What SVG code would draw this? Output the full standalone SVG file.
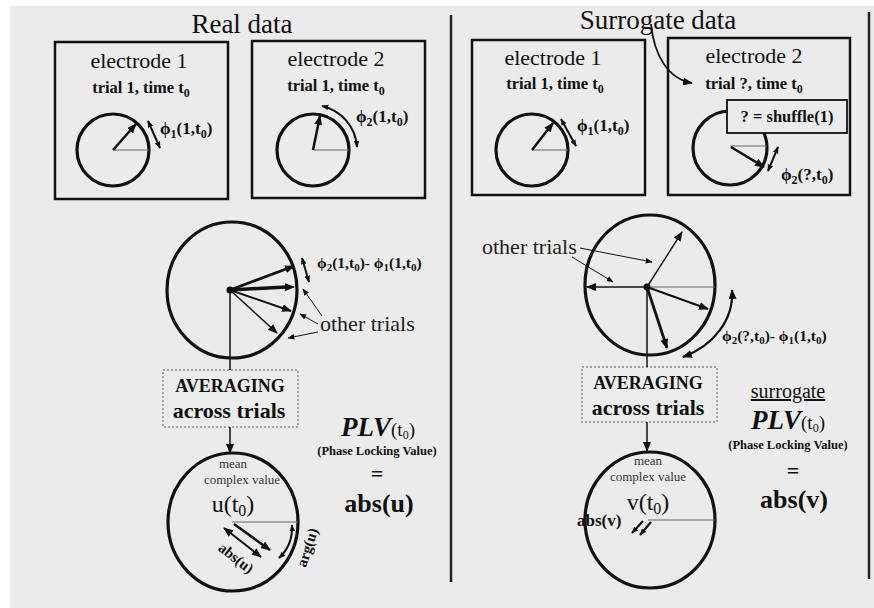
<svg xmlns="http://www.w3.org/2000/svg" width="874" height="608" viewBox="0 0 874 608">
<defs>
<style>
text{font-family:"Liberation Serif","DejaVu Serif",serif;fill:#111}
.title{font-size:27px;text-anchor:middle}
.el{font-size:22px;text-anchor:middle}
.tr{font-size:16.5px;font-weight:bold;text-anchor:middle}
.phi{font-size:17px;font-weight:bold}
.phis{font-size:15.5px;font-weight:bold}
.ot{font-size:22px;fill:#222}
.avg1{font-size:18px;font-weight:bold;text-anchor:middle}
.avg2{font-size:22px;font-weight:bold;text-anchor:middle}
.mean{font-size:13px;text-anchor:middle;fill:#333}
.uv{font-size:24px;text-anchor:middle}
.plv{font-size:27px;font-weight:bold;font-style:italic;text-anchor:middle}
.plvs{font-size:12.5px;font-weight:bold;text-anchor:middle}
.abs{font-size:26px;font-weight:bold;text-anchor:middle}
.box{fill:#ebebeb;stroke:#111;stroke-width:2.5}
.circ{fill:none;stroke:#111;stroke-width:3.2}
.thin{stroke:#666;stroke-width:1.2;fill:none}
.vec{stroke:#111;fill:none}
.avgbox{fill:#ececec;stroke:#888;stroke-width:1.5;stroke-dasharray:2 2}
.sep{stroke:#222;stroke-width:2.5}
</style>
<marker id="ah" viewBox="0 0 10 8" refX="9" refY="4" markerWidth="10" markerHeight="8" markerUnits="userSpaceOnUse" orient="auto-start-reverse"><path d="M0,0 L10,4 L0,8 z" fill="#111"/></marker>
<marker id="as" viewBox="0 0 10 8" refX="9" refY="4" markerWidth="7" markerHeight="6" markerUnits="userSpaceOnUse" orient="auto-start-reverse"><path d="M0,0 L10,4 L0,8 z" fill="#111"/></marker>
</defs>
<rect x="0" y="0" width="874" height="608" fill="#ffffff"/>
<rect x="10" y="6" width="864" height="602" fill="#ebebeb"/>

<g id="separators">
<line class="sep" x1="451" y1="15" x2="451" y2="582"/>
<line class="sep" x1="869" y1="12" x2="869" y2="579"/>
</g>

<g id="title-real"><text class="title" x="242" y="33">Real data</text></g>
<g id="title-surrogate"><text class="title" x="658" y="29">Surrogate data</text></g>

<g id="real-electrode1">
<rect class="box" x="55" y="42" width="173" height="157"/>
<text class="el" x="139" y="68">electrode 1</text>
<text class="tr" x="141" y="93">trial 1, time t<tspan font-size="12" dy="4">0</tspan></text>
<circle class="circ" cx="113" cy="150" r="36"/>
<line class="thin" x1="113" y1="150" x2="149" y2="150"/>
<line class="vec" stroke-width="2.5" x1="113" y1="150" x2="136" y2="124" marker-end="url(#ah)"/>
<line class="vec" stroke-width="2" x1="148" y1="121" x2="160" y2="148" marker-start="url(#as)" marker-end="url(#as)"/>
<text class="phi" x="160" y="134">ϕ<tspan font-size="12" dy="4">1</tspan><tspan dy="-4">(1,t</tspan><tspan font-size="12" dy="4">0</tspan><tspan dy="-4">)</tspan></text>
</g>

<g id="real-electrode2">
<rect class="box" x="252" y="41" width="173" height="157"/>
<text class="el" x="336" y="66">electrode 2</text>
<text class="tr" x="336" y="91">trial 1, time t<tspan font-size="12" dy="4">0</tspan></text>
<circle class="circ" cx="313" cy="150" r="36"/>
<line class="thin" x1="313" y1="150" x2="349" y2="150"/>
<line class="vec" stroke-width="2.5" x1="313" y1="150" x2="320" y2="116" marker-end="url(#ah)"/>
<path class="vec" stroke-width="2" d="M322,106 A45,45 0 0 1 357,147" marker-start="url(#as)" marker-end="url(#as)"/>
<text class="phi" x="356" y="122">ϕ<tspan font-size="12" dy="4">2</tspan><tspan dy="-4">(1,t</tspan><tspan font-size="12" dy="4">0</tspan><tspan dy="-4">)</tspan></text>
</g>

<g id="sur-electrode1">
<rect class="box" x="472" y="40" width="173" height="155"/>
<text class="el" x="553" y="65">electrode 1</text>
<text class="tr" x="555" y="89">trial 1, time t<tspan font-size="12" dy="4">0</tspan></text>
<circle class="circ" cx="532" cy="150" r="36"/>
<line class="thin" x1="532" y1="150" x2="568" y2="150"/>
<line class="vec" stroke-width="2.5" x1="532" y1="150" x2="553" y2="123" marker-end="url(#ah)"/>
<line class="vec" stroke-width="2" x1="561" y1="119" x2="576" y2="146" marker-start="url(#as)" marker-end="url(#as)"/>
<text class="phi" x="577" y="131">ϕ<tspan font-size="12" dy="4">1</tspan><tspan dy="-4">(1,t</tspan><tspan font-size="12" dy="4">0</tspan><tspan dy="-4">)</tspan></text>
</g>

<g id="sur-electrode2">
<rect class="box" x="668" y="38" width="182" height="157"/>
<text class="el" x="754" y="63">electrode 2</text>
<text class="tr" x="754" y="89">trial ?, time t<tspan font-size="12" dy="4">0</tspan></text>
<circle class="circ" cx="730" cy="148" r="37"/>
<line class="thin" x1="730" y1="146" x2="767" y2="146"/>
<line class="vec" stroke-width="2.5" x1="731" y1="147" x2="764" y2="167" marker-end="url(#ah)"/>
<line class="vec" stroke-width="2" x1="768" y1="171" x2="778" y2="147" marker-start="url(#as)" marker-end="url(#as)"/>
<text class="phi" x="781" y="180">ϕ<tspan font-size="12" dy="4">2</tspan><tspan dy="-4">(?,t</tspan><tspan font-size="12" dy="4">0</tspan><tspan dy="-4">)</tspan></text>
</g>

<g id="shuffle-box">
<rect x="727" y="100" width="120" height="33" fill="#ebebeb" stroke="#111" stroke-width="1.8"/>
<text x="787" y="122" font-size="16.5" font-weight="bold" text-anchor="middle">? = shuffle(1)</text>
</g>

<g id="real-trials-circle">
<ellipse class="circ" cx="232" cy="290" rx="65" ry="68"/>
<circle cx="230" cy="290" r="3.5" fill="#111"/>
<line class="vec" stroke="#999" stroke-width="3.5" x1="230" y1="290" x2="286" y2="287"/>
<line class="vec" stroke-width="1.2" x1="280" y1="287.3" x2="294" y2="287" marker-end="url(#ah)"/>
<line class="vec" stroke-width="2.8" x1="230" y1="290" x2="294" y2="266" marker-end="url(#ah)"/>
<line class="vec" stroke-width="2" x1="230" y1="290" x2="291" y2="311" marker-end="url(#ah)"/>
<line class="vec" stroke-width="1.4" x1="230" y1="290" x2="277" y2="333" marker-end="url(#ah)"/>
<line class="vec" stroke-width="2" x1="302" y1="258" x2="309" y2="282" marker-start="url(#as)" marker-end="url(#as)"/>
<text class="phis" x="317" y="268">ϕ<tspan font-size="11" dy="3">2</tspan><tspan dy="-3">(1,t</tspan><tspan font-size="11" dy="3">0</tspan><tspan dy="-3">)- ϕ</tspan><tspan font-size="11" dy="3">1</tspan><tspan dy="-3">(1,t</tspan><tspan font-size="11" dy="3">0</tspan><tspan dy="-3">)</tspan></text>
<text class="ot" x="320" y="331">other trials</text>
</g>

<g id="real-averaging">
<rect class="avgbox" x="163" y="370" width="135" height="57"/>
<text class="avg1" x="230" y="392">AVERAGING</text>
<text class="avg2" x="229" y="418">across trials</text>
</g>

<g id="real-mean-circle">
<ellipse class="circ" cx="233" cy="522" rx="65" ry="69"/>
<text class="mean" x="233" y="468">mean</text>
<text class="mean" x="242" y="484">complex value</text>
<text class="uv" x="233" y="512">u(t<tspan font-size="16" dy="4">0</tspan><tspan dy="-4">)</tspan></text>
<line class="thin" stroke="#222" stroke-width="1.5" x1="232" y1="522" x2="298" y2="522"/>
<line class="vec" stroke-width="2.5" x1="234" y1="524" x2="270" y2="550" marker-end="url(#ah)"/>
<line class="vec" stroke-width="2" x1="224" y1="528" x2="261" y2="557" marker-start="url(#ah)" marker-end="url(#ah)"/>
<path class="vec" stroke-width="2" d="M292,525 Q293,545 279,558" marker-start="url(#as)" marker-end="url(#as)"/>
<text x="233" y="562" font-size="15" font-weight="bold" text-anchor="middle" transform="rotate(38 233 562)">abs(u)</text>
<text x="312" y="549" font-size="15" font-weight="bold" text-anchor="middle" transform="rotate(-72 312 549)">arg(u)</text>
</g>

<g id="real-plv">
<text class="plv" x="378" y="436">PLV<tspan font-size="19" font-weight="normal" font-style="normal">(t<tspan font-size="12" dy="2.5">0</tspan><tspan dy="-2.5">)</tspan></tspan></text>
<text class="plvs" x="377" y="455">(Phase Locking Value)</text>
<text x="377" y="481" font-size="22" font-weight="bold" text-anchor="middle">=</text>
<text class="abs" x="379" y="512">abs(u)</text>
</g>

<g id="sur-trials-circle">
<ellipse class="circ" cx="650" cy="285" rx="65" ry="70"/>
<circle cx="647" cy="287" r="3.5" fill="#111"/>
<line class="thin" stroke="#222" stroke-width="1.5" x1="647" y1="287" x2="715" y2="287"/>
<line class="vec" stroke-width="1.5" x1="647" y1="287" x2="587" y2="287" marker-end="url(#ah)"/>
<line class="vec" stroke-width="1.4" x1="647" y1="287" x2="682" y2="232" marker-end="url(#ah)"/>
<line class="vec" stroke-width="2" x1="647" y1="287" x2="708" y2="309" marker-end="url(#ah)"/>
<line class="vec" stroke-width="2.8" x1="647" y1="287" x2="667" y2="348" marker-end="url(#ah)"/>
<path class="vec" stroke-width="2.2" d="M732,290 C734,320 713,346 683,357" marker-start="url(#ah)" marker-end="url(#ah)"/>
<text class="phis" x="722" y="341">ϕ<tspan font-size="11" dy="3">2</tspan><tspan dy="-3">(?,t</tspan><tspan font-size="11" dy="3">0</tspan><tspan dy="-3">)- ϕ</tspan><tspan font-size="11" dy="3">1</tspan><tspan dy="-3">(1,t</tspan><tspan font-size="11" dy="3">0</tspan><tspan dy="-3">)</tspan></text>
<text class="ot" x="482" y="254">other trials</text>
</g>

<g id="sur-averaging">
<rect class="avgbox" x="582" y="367" width="135" height="55"/>
<text class="avg1" x="648" y="389">AVERAGING</text>
<text class="avg2" x="648" y="415">across trials</text>
</g>

<g id="sur-mean-circle">
<ellipse class="circ" cx="650" cy="520" rx="65" ry="68"/>
<text class="mean" x="648" y="465">mean</text>
<text class="mean" x="648" y="481">complex value</text>
<text class="uv" x="648" y="510">v(t<tspan font-size="16" dy="4">0</tspan><tspan dy="-4">)</tspan></text>
<line class="thin" stroke="#222" stroke-width="1.5" x1="648" y1="520" x2="715" y2="520"/>
<line class="vec" stroke-width="2.2" x1="651" y1="522" x2="640" y2="535" marker-end="url(#as)"/>
<line class="vec" stroke-width="2.2" x1="643" y1="521" x2="632" y2="533" marker-end="url(#as)"/>
<text x="577" y="526" font-size="17" font-weight="bold">abs(v)</text>
</g>

<g id="sur-plv">
<text x="788" y="398" font-size="20" text-anchor="middle" text-decoration="underline">surrogate</text>
<text class="plv" x="788" y="429">PLV<tspan font-size="19" font-weight="normal" font-style="normal">(t<tspan font-size="12" dy="2.5">0</tspan><tspan dy="-2.5">)</tspan></tspan></text>
<text class="plvs" x="788" y="449">(Phase Locking Value)</text>
<text x="793" y="478" font-size="22" font-weight="bold" text-anchor="middle">=</text>
<text class="abs" x="794" y="508">abs(v)</text>
</g>

<g id="connectors">
<line class="vec" stroke-width="1.5" x1="230" y1="290" x2="230" y2="370"/>
<line class="vec" stroke-width="1.5" x1="230" y1="427" x2="230" y2="453" marker-end="url(#ah)"/>
<line class="vec" stroke-width="1.5" x1="647" y1="287" x2="647" y2="367"/>
<line class="vec" stroke-width="1.5" x1="647" y1="422" x2="647" y2="451" marker-end="url(#ah)"/>
<path class="vec" stroke-width="1.8" d="M651,24 C654,55 668,79 692,83" marker-end="url(#ah)"/>
<line class="vec" stroke-width="1" x1="322" y1="316" x2="303" y2="289" marker-end="url(#as)"/>
<line class="vec" stroke-width="1" x1="318" y1="324" x2="300" y2="314" marker-end="url(#as)"/>
<line class="vec" stroke-width="1" x1="318" y1="332" x2="288" y2="338" marker-end="url(#as)"/>
<line class="vec" stroke-width="1" x1="580" y1="248" x2="652" y2="262" marker-end="url(#as)"/>
<line class="vec" stroke-width="1" x1="572" y1="257" x2="613" y2="282" marker-end="url(#as)"/>
</g>
</svg>
